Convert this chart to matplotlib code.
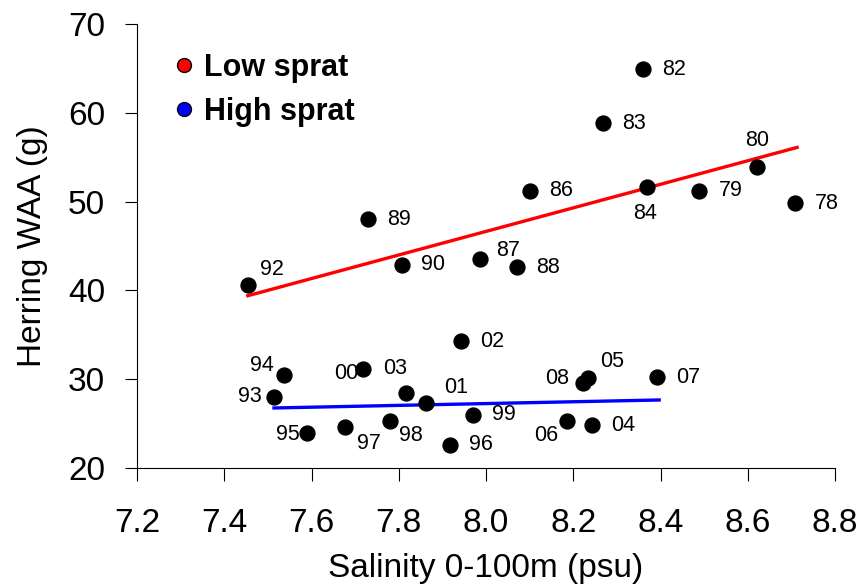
import numpy as np
import matplotlib.pyplot as plt
from matplotlib.lines import Line2D

plt.rcParams["font.family"] = ["Liberation Sans", "DejaVu Sans"]

# low sprat years
low_years = ["92", "89", "90", "87", "88", "86", "83", "82", "84", "79", "80", "78"]
low_sal = [7.454, 7.730, 7.807, 7.986, 8.071, 8.101, 8.268, 8.360, 8.369, 8.488, 8.621, 8.708]
low_waa = [40.6, 48.0, 42.9, 43.5, 42.6, 51.2, 58.85, 64.9, 51.6, 51.2, 53.9, 49.8]
low_fit_x = [7.454, 8.713]
low_fit_y = [39.4, 56.1]

# high sprat years
high_years = ["94", "93", "00", "03", "01", "02", "95", "97", "98", "99", "96",
              "06", "04", "08", "05", "07"]
high_sal = [7.537, 7.514, 7.718, 7.817, 7.862, 7.943, 7.590, 7.677, 7.780, 7.970,
            7.917, 8.186, 8.243, 8.222, 8.234, 8.392]
high_waa = [30.5, 28.0, 31.1, 28.4, 27.3, 34.3, 23.9, 24.6, 25.3, 26.0,
            22.6, 25.3, 24.8, 29.6, 30.1, 30.2]
high_fit_x = [7.514, 8.397]
high_fit_y = [26.76, 27.66]

# label offsets in pixels (dx, dy; dy positive = up)
low_off = [(24, 16), (31, 0), (31, 0), (28, 9), (31, 0), (31, 0), (31, 0), (31, 0),
           (-2, -26), (32, 0), (0, 26), (32, 0)]
high_off = [(-22, 9), (-24, 0), (-17, -4), (-11, 25), (30, 16), (31, 0), (-19, -1),
            (24, -16), (21, -15), (31, 0), (31, 0), (-21, -15), (31, 0), (-26, 4),
            (24, 17), (31, 0)]

fig = plt.figure(figsize=(8.62, 5.86), dpi=100)
ax = fig.add_axes([137 / 862, 118 / 586, 698 / 862, 444 / 586])

ax.plot(low_fit_x, low_fit_y, color="#ff0000", lw=2.4, zorder=2)
ax.plot(high_fit_x, high_fit_y, color="#0000ff", lw=2.4, zorder=2)
ax.scatter(low_sal, low_waa, s=115, color="black", zorder=3)
ax.scatter(high_sal, high_waa, s=115, color="black", zorder=3)

for xs, ys, labs, offs in [(low_sal, low_waa, low_years, low_off),
                           (high_sal, high_waa, high_years, high_off)]:
    for x, y, lab, (dx, dy) in zip(xs, ys, labs, offs):
        ax.annotate(lab, (x, y), xytext=(dx, dy), textcoords="offset pixels",
                    ha="center", va="center", fontsize=15.5)

ax.set_xlim(7.2, 8.8)
ax.set_ylim(20, 70)
ax.set_xticks(np.arange(7.2, 8.81, 0.2))
ax.set_xticklabels([f"{v:.1f}" for v in np.arange(7.2, 8.81, 0.2)])
ax.set_yticks(range(20, 71, 10))
ax.spines["top"].set_visible(False)
ax.spines["right"].set_visible(False)
ax.tick_params(direction="out", length=9, width=0.8, labelsize=24)
ax.tick_params(axis="y", pad=14)
ax.tick_params(axis="x", pad=20)
ax.set_xlabel("Salinity 0-100m (psu)", fontsize=24, labelpad=10)
ax.set_ylabel("Herring WAA (g)", fontsize=24, labelpad=14)

handles = [
    Line2D([], [], marker="o", ls="none", markerfacecolor="#ff0000",
           markeredgecolor="black", markersize=10, label="Low sprat"),
    Line2D([], [], marker="o", ls="none", markerfacecolor="#0000ff",
           markeredgecolor="black", markersize=10, label="High sprat"),
]
ax.legend(handles=handles, loc="upper left",
          bbox_to_anchor=(175 / 862, (586 - 53) / 586),
          bbox_transform=fig.transFigure, frameon=False,
          prop={"weight": "bold", "size": 22},
          handletextpad=0.35, labelspacing=0.45, handlelength=0.6,
          borderpad=0, borderaxespad=0)

fig.savefig("out.png", dpi=100)
